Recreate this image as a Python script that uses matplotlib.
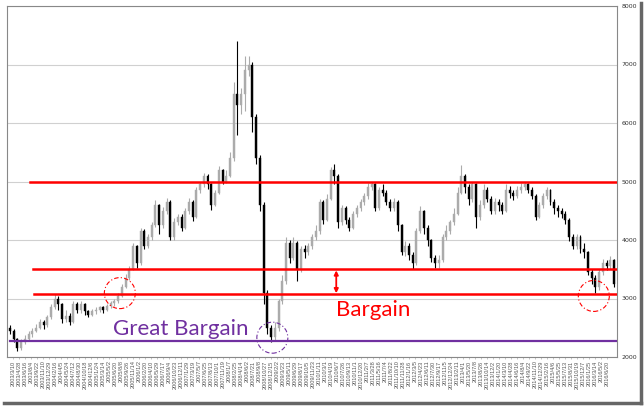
import numpy as np
import pandas as pd
import matplotlib
matplotlib.use('Agg')
import matplotlib.pyplot as plt
from matplotlib.patches import Ellipse
from matplotlib.lines import Line2D

# monthly bars, Feb 2003 .. Aug 2016
first_open = 2500
close = [2450, 2300, 2150, 2250, 2300, 2400, 2450, 2500, 2600, 2550,
         2680, 2850, 3000, 2900, 2650, 2700, 2600, 2900, 2800, 2900,
         2780, 2720, 2780, 2800, 2850, 2800, 2870, 2920, 2950, 3050,
         3200, 3350, 3500, 3900, 3600, 4150, 3900, 4050, 4250, 4600,
         4250, 4500, 4650, 4050, 4300, 4400, 4200, 4500, 4650, 4400,
         4850, 4950, 5100, 4950, 4600, 4800, 5200, 5000, 5100, 5400,
         6500, 6300, 6500, 6900, 7000, 6100, 5400, 4600, 3100, 2500,
         2350, 2500, 2950, 3300, 3950, 3700, 3950, 3500, 3850, 3800,
         3900, 4050, 4150, 4650, 4350, 4700, 5200, 5100, 4300, 4550,
         4350, 4200, 4450, 4550, 4650, 4750, 4900, 4950, 4550, 4850,
         4800, 4650, 4550, 4650, 4250, 3800, 3900, 3750, 3600, 4150,
         4500, 4200, 4000, 3700, 3600, 3650, 4050, 4150, 4300, 4450,
         4800, 5100, 4900, 4700, 4950, 4400, 4600, 4850, 4700, 4500,
         4650, 4600, 4500, 4850, 4800, 4750, 4850, 4900, 4950, 4850,
         4750, 4400, 4600, 4750, 4850, 4650, 4550, 4500, 4450, 4350,
         4050, 3900, 4050, 3850, 3800, 3450, 3350, 3200, 3450, 3600,
         3550, 3650, 3250]
high = [2550, 2480, 2320, 2300, 2380, 2450, 2500, 2560, 2650, 2640,
        2720, 2900, 3080, 3050, 2920, 2800, 2750, 2950, 2940, 2950,
        2920, 2800, 2820, 2850, 2880, 2880, 2900, 2960, 3000, 3100,
        3250, 3420, 3560, 3950, 3920, 4200, 4180, 4100, 4300, 4680,
        4620, 4560, 4720, 4680, 4380, 4450, 4450, 4550, 4720, 4680,
        4900, 5000, 5150, 5120, 4980, 4850, 5260, 5220, 5200, 5500,
        6700, 7400, 6600, 7150, 7150, 7050, 6150, 5450, 4650, 3150,
        2550, 2600, 3000, 3400, 4050, 4000, 4050, 3980, 3900, 3920,
        3950, 4100, 4250, 4700, 4680, 4780, 5250, 5300, 5120, 4600,
        4580, 4400, 4500, 4600, 4700, 4800, 4980, 5000, 4980, 4900,
        4950, 4850, 4700, 4720, 4680, 4280, 3980, 3950, 3800, 4200,
        4580, 4520, 4250, 4020, 3750, 3750, 4100, 4250, 4350, 4550,
        4900, 5280, 5120, 4950, 5000, 4980, 4680, 4950, 4900, 4750,
        4720, 4700, 4650, 4950, 4920, 4850, 4920, 4980, 5000, 4980,
        4900, 4780, 4650, 4800, 4900, 4880, 4700, 4600, 4550, 4500,
        4380, 4100, 4100, 4080, 3950, 3820, 3500, 3400, 3500, 3680,
        3650, 3720, 3680]
low = [2400, 2250, 2100, 2120, 2220, 2280, 2350, 2420, 2480, 2480,
       2520, 2650, 2820, 2800, 2580, 2600, 2550, 2580, 2750, 2760,
       2720, 2680, 2700, 2740, 2770, 2760, 2780, 2840, 2880, 2920,
       3020, 3180, 3320, 3480, 3520, 3580, 3850, 3860, 4000, 4220,
       4100, 4200, 4450, 4000, 4000, 4250, 4150, 4180, 4450, 4320,
       4380, 4800, 4900, 4880, 4520, 4580, 4780, 4950, 4980, 5080,
       5350, 5800, 6150, 6200, 6800, 5850, 5300, 4500, 2900, 2400,
       2250, 2280, 2450, 2900, 3250, 3600, 3650, 3300, 3450, 3700,
       3750, 3850, 4000, 4100, 4280, 4320, 4680, 4950, 4200, 4250,
       4280, 4150, 4180, 4400, 4500, 4600, 4700, 4850, 4500, 4520,
       4750, 4600, 4500, 4500, 4150, 3750, 3720, 3650, 3500, 3580,
       4120, 4100, 3900, 3620, 3520, 3520, 3620, 4000, 4100, 4250,
       4420, 4780, 4800, 4600, 4650, 4200, 4350, 4550, 4650, 4450,
       4450, 4500, 4450, 4480, 4720, 4680, 4720, 4800, 4850, 4800,
       4700, 4350, 4380, 4550, 4700, 4600, 4450, 4400, 4380, 4280,
       3980, 3850, 3850, 3780, 3700, 3400, 3250, 3100, 3150, 3400,
       3480, 3500, 3200]
opens = [first_open] + close[:-1]
months = pd.date_range('2003-02-01', periods=len(close), freq='MS') + pd.Timedelta(days=14)

levels = [5000, 3500, 3070]
great_level = 2270
yticks = [2000, 3000, 4000, 5000, 6000, 7000, 8000]
label_dates = pd.date_range('2003-03-10', '2016-06-27', freq='49D')

fig = plt.figure(figsize=(6.44, 4.07), dpi=100)
ax = fig.add_axes([7/644, 50/407, 610/644, 351/407])

x = matplotlib.dates.date2num(months)
for xi, o, c, h, l in zip(x, opens, close, high, low):
    col = '#ababab' if c >= o else 'black'
    ax.vlines(xi, l, h, color=col, lw=0.8, zorder=2)
    ax.bar(xi, max(abs(c - o), 15), bottom=min(o, c), width=16,
           color=col, edgecolor=col, lw=0.3, zorder=3)

for lv, start in zip(levels, [0.038, 0.043, 0.045]):
    ax.axhline(lv, xmin=start, xmax=1, color='#ff0000', lw=1.8, zorder=5)
ax.axhline(great_level, xmin=0.005, xmax=1, color='#7030a0', lw=1.6, zorder=5)

ax.annotate('', xy=(pd.Timestamp('2010-05-31'), 3090),
            xytext=(pd.Timestamp('2010-05-31'), 3480),
            arrowprops=dict(arrowstyle='<|-|>', color='red', lw=1.3,
                            mutation_scale=6, shrinkA=0, shrinkB=0), zorder=6)
ax.text(pd.Timestamp('2010-05-31'), 2709, 'Bargain', color='#ff0000',
        fontsize=16, family='Lato', va='baseline', ha='left', zorder=6)
ax.text(pd.Timestamp('2005-06-03'), 2376, 'Great Bargain', color='#7030a0',
        fontsize=16, family='Lato', va='baseline', ha='left', zorder=6)

# dash-dot circles (axes fraction)
for cx, cy, col in [(0.185, 0.182, 'red'), (0.435, 0.055, '#7030a0'),
                    (0.962, 0.174, 'red')]:
    ax.add_patch(Ellipse((cx, cy), 31/610, 31/351, transform=ax.transAxes,
                         fill=False, edgecolor=col, lw=0.8,
                         linestyle=(0, (4, 2, 1, 2)), zorder=6))

ax.set_ylim(2000, 8000)
ax.set_xlim(pd.Timestamp('2003-01-20'), pd.Timestamp('2016-09-08'))
ax.set_yticks(yticks)
ax.set_yticklabels([str(v) for v in yticks])
ax.yaxis.tick_right()
ax.tick_params(axis='y', length=0, pad=3.5, labelsize=4.5, labelcolor='#333333')
ax.set_xticks(label_dates)
ax.set_xticklabels([f'{d.year}/{d.month}/{d.day}' for d in label_dates],
                   rotation=90, fontsize=4.1, color='#555555',
                   family='Liberation Sans')
ax.tick_params(axis='x', length=1.5, width=0.4, color='#999999', pad=1)
ax.grid(axis='y', color='#d0d0d0', lw=0.8, zorder=0)
ax.set_axisbelow(True)
for s in ax.spines.values():
    s.set_color('#888888')
    s.set_linewidth(0.8)

# screenshot shadow
fig.add_artist(Line2D([4/644, 641/644], [4/407, 4/407], color='#666666', lw=2.5))
fig.add_artist(Line2D([641/644, 641/644], [4/407, 404/407], color='#666666', lw=2.5))

fig.savefig('out.png', dpi=100)
